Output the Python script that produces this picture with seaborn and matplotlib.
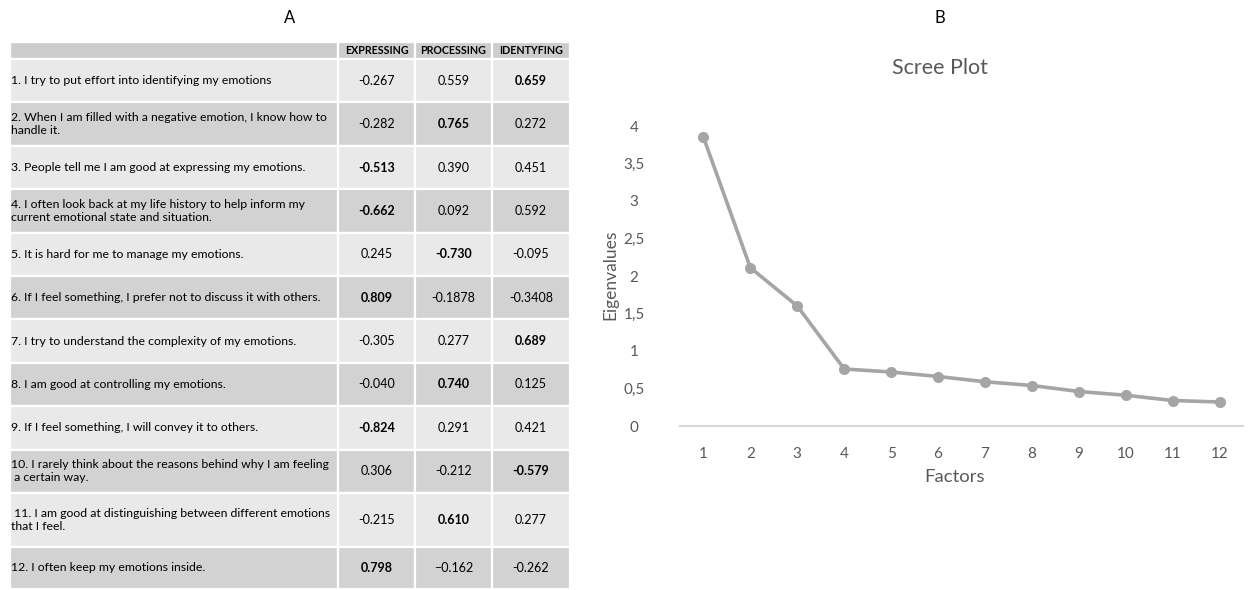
import matplotlib
matplotlib.use("Agg")
import matplotlib.pyplot as plt
import seaborn as sns
import pandas as pd
from matplotlib.patches import Rectangle

# ---------------- data ----------------
items = [
    "1. I try to put effort into identifying my emotions",
    "2. When I am filled with a negative emotion, I know how to\nhandle it.",
    "3. People tell me I am good at expressing my emotions.",
    "4. I often look back at my life history to help inform my\ncurrent emotional state and situation.",
    "5. It is hard for me to manage my emotions.",
    "6. If I feel something, I prefer not to discuss it with others.",
    "7. I try to understand the complexity of my emotions.",
    "8. I am good at controlling my emotions.",
    "9. If I feel something, I will convey it to others.",
    "10. I rarely think about the reasons behind why I am feeling\n a certain way.",
    " 11. I am good at distinguishing between different emotions\nthat I feel.",
    "12. I often keep my emotions inside.",
]
factor_names = ["EXPRESSING", "PROCESSING", "IDENTYFING"]
expressing = ["-0.267", "-0.282", "-0.513", "-0.662", "0.245", "0.809",
              "-0.305", "-0.040", "-0.824", "0.306", "-0.215", "0.798"]
processing = ["0.559", "0.765", "0.390", "0.092", "-0.730", "-0.1878",
              "0.277", "0.740", "0.291", "-0.212", "0.610", "\u22120.162"]
identifying = ["0.659", "0.272", "0.451", "0.592", "-0.095", "-0.3408",
               "0.689", "0.125", "0.421", "-0.579", "0.277", "-0.262"]

factors = [1, 2, 3, 4, 5, 6, 7, 8, 9, 10, 11, 12]
eigenvalues = [3.85, 2.11, 1.60, 0.76, 0.72, 0.66, 0.59, 0.54, 0.46, 0.41, 0.34, 0.32]
ytick_labels = ["0", "0,5", "1", "1,5", "2", "2,5", "3", "3,5", "4"]

# ---------------- style ----------------
sns.set_theme(style="white")
plt.rcParams["font.family"] = ["Lato", "DejaVu Sans"]

W, H = 1249, 590
fig = plt.figure(figsize=(W / 100, H / 100), dpi=100)

def fx(px):
    return px / W

def fy(py):
    return 1 - py / H

fig.text(fx(290), fy(18), "A", ha="center", va="center", fontsize=12, color="black")
fig.text(fx(940), fy(18), "B", ha="center", va="center", fontsize=12, color="black")

# ---------------- table (panel A) ----------------
tab_left, tab_top, tab_w, tab_h = 10, 42, 560, 548
axT = fig.add_axes([fx(tab_left), fy(tab_top + tab_h), tab_w / W, tab_h / H])
axT.set_xlim(0, tab_w)
axT.set_ylim(tab_h, 0)
axT.axis("off")

col_edges = [0, 328, 405, 482, 560]
row_heights = [17] + [43.4] * 10 + [54, 42]
row_edges = [0]
for h in row_heights:
    row_edges.append(row_edges[-1] + h)

header_color = "#cdcdcd"
light = "#e9e9e9"
dark = "#d2d2d2"

df = pd.DataFrame({"item": items, factor_names[0]: expressing,
                   factor_names[1]: processing, factor_names[2]: identifying})

def tofloat(s):
    return float(s.replace("\u2212", "-"))

for r in range(len(row_heights)):
    y0, y1 = row_edges[r], row_edges[r + 1]
    if r == 0:
        fc = header_color
    else:
        fc = light if (r % 2 == 1) else dark
    for c in range(4):
        x0, x1 = col_edges[c], col_edges[c + 1]
        axT.add_patch(Rectangle((x0, y0), x1 - x0, y1 - y0, facecolor=fc,
                                edgecolor="white", linewidth=1.6))
    yc = (y0 + y1) / 2
    if r == 0:
        for c, name in enumerate(factor_names):
            xc = (col_edges[c + 1] + col_edges[c + 2]) / 2
            axT.text(xc, yc + 0.5, name, ha="center", va="center", fontsize=7.7,
                     fontweight="bold", color="black")
    else:
        i = r - 1
        axT.text(1, yc, df["item"][i], ha="left", va="center", fontsize=8.8,
                 color="black", linespacing=1.2)
        vals = [tofloat(df[n][i]) for n in factor_names]
        best = max(range(3), key=lambda k: abs(vals[k]))
        for c, name in enumerate(factor_names):
            xc = (col_edges[c + 1] + col_edges[c + 2]) / 2
            axT.text(xc, yc, df[name][i], ha="center", va="center", fontsize=9,
                     fontweight="bold" if c == best else "normal", color="black")

# ---------------- scree plot (panel B) ----------------
gray_txt = "#595959"
line_col = "#a5a5a5"
ax_l, ax_r, ax_b, ax_t = 680, 1243, 426, 126
axS = fig.add_axes([fx(ax_l), fy(ax_b), (ax_r - ax_l) / W, (ax_b - ax_t) / H])
sns.lineplot(x=factors, y=eigenvalues, ax=axS, color=line_col, linewidth=2.6,
             marker="o", markersize=8, markeredgewidth=0, markerfacecolor=line_col,
             clip_on=False)
axS.set_xlim(0.5, 12.5)
axS.set_ylim(0, 4)
axS.set_xticks(factors)
axS.set_xticklabels([str(f) for f in factors], fontsize=11, color=gray_txt)
axS.set_yticks([0, 0.5, 1, 1.5, 2, 2.5, 3, 3.5, 4])
axS.set_yticklabels(ytick_labels, fontsize=11, color=gray_txt)
axS.tick_params(axis="x", length=0, pad=15)
axS.tick_params(axis="y", length=0, pad=33)
for t in axS.get_yticklabels():
    t.set_horizontalalignment("center")
for s in ["top", "right", "left"]:
    axS.spines[s].set_visible(False)
axS.spines["bottom"].set_color("#d9d9d9")
axS.spines["bottom"].set_linewidth(1.5)
axS.grid(False)
axS.set_xlabel("")
axS.set_ylabel("")

fig.text(fx(940), fy(68), "Scree Plot", ha="center", va="center", fontsize=15.5, color=gray_txt)
fig.text(fx(955), fy(477), "Factors", ha="center", va="center", fontsize=13.3, color=gray_txt)
fig.text(fx(610), fy(275), "Eigenvalues", ha="center", va="center", fontsize=12.5,
         color=gray_txt, rotation=90)

fig.savefig("out.png", dpi=100, facecolor="white")
